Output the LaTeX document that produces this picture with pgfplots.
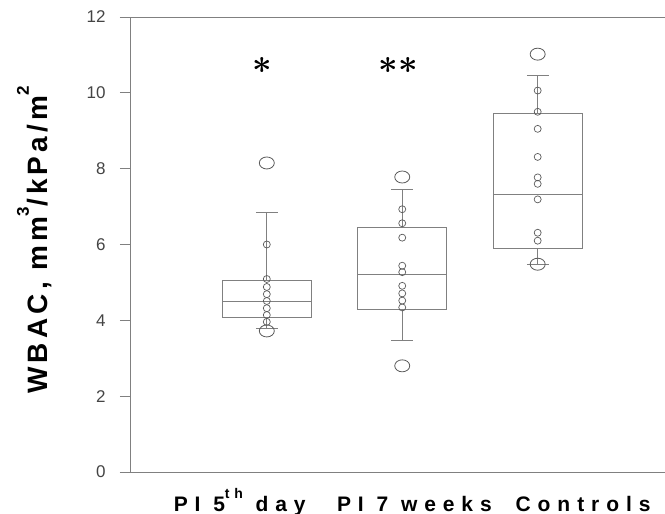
\documentclass[border=0pt]{standalone}
\usepackage{fontspec}
\setmainfont{Liberation Sans}
\newfontfamily\ylabfont[LetterSpace=15]{Liberation Sans}
\newfontfamily\xlabfont[LetterSpace=33]{Liberation Sans}
\usepackage{pgfplots}
\pgfplotsset{compat=1.18}
\usepgfplotslibrary{statistics}
\definecolor{lineGray}{HTML}{808080}
\definecolor{ptGray}{HTML}{5A5A5A}
\definecolor{tickText}{HTML}{444444}
\newcommand{\ysup}[1]{\raisebox{19pt}{\fontsize{17}{17}\selectfont #1}}
\newcommand{\xsup}[1]{\raisebox{13pt}{\fontsize{14}{14}\selectfont #1}}
\newcommand{\bast}{\mbox{\boldmath$\ast$}}

\begin{document}
\begin{tikzpicture}
\useasboundingbox (-130pt,-42pt) rectangle (535pt,472pt);
\begin{axis}[
  scale only axis, width=535pt, height=455pt,
  at={(0,0)}, anchor=south west,
  xmin=-0.01, xmax=3.94, ymin=0, ymax=12,
  clip=false,
  axis line style={draw=none},
  ytick={0,2,...,12},
  tick align=outside, major tick length=10pt,
  ytick style={lineGray, line width=0.8pt},
  xtick={0.80,2.09,3.335},
  xtick style={draw=none},
  xticklabels={PI 5\xsup{th} day, PI 7 weeks, Controls},
  xticklabel style={anchor=base, yshift=-30pt, font=\xlabfont\fontsize{21}{23}\selectfont\bfseries},
  yticklabel style={font=\fontsize{17}{19}\selectfont, text=tickText, xshift=-11pt},
  /pgf/number format/assume math mode=true,
  ylabel={WBAC, mm\ysup{3}/kPa/m\ysup{2}},
  ylabel style={at={([xshift=-82pt]rel axis cs:0,0.51)}, anchor=base, rotate=0,
    font=\ylabfont\fontsize{28}{30}\selectfont\bfseries},
]
% frame: left, top and bottom lines
\draw[lineGray, line width=0.9pt] (rel axis cs:0,0) -- (rel axis cs:0,1);
\draw[lineGray, line width=0.9pt] ([xshift=-10pt]rel axis cs:0,1) -- (rel axis cs:1,1);
\draw[lineGray, line width=0.9pt] ([xshift=-10pt]rel axis cs:0,0) -- (rel axis cs:1,0);

% boxes
\pgfplotsset{boxplot/draw direction=y}
\addplot[draw=lineGray, line width=0.9pt, boxplot prepared={
  lower whisker=3.79, lower quartile=4.08, median=4.49,
  upper quartile=5.06, upper whisker=6.84,
  draw position=1, box extend=0.66, whisker extend=0.16}] coordinates {};
\addplot[draw=lineGray, line width=0.9pt, boxplot prepared={
  lower whisker=3.46, lower quartile=4.30, median=5.20,
  upper quartile=6.46, upper whisker=7.46,
  draw position=2, box extend=0.66, whisker extend=0.16}] coordinates {};
\addplot[draw=lineGray, line width=0.9pt, boxplot prepared={
  lower whisker=5.48, lower quartile=5.90, median=7.33,
  upper quartile=9.46, upper whisker=10.45,
  draw position=3, box extend=0.66, whisker extend=0.16}] coordinates {};

% individual values
\addplot[only marks, mark=o, mark size=3.5pt, mark options={draw=ptGray, line width=0.7pt}]
  coordinates {(1,6.00)(1,5.09)(1,4.88)(1,4.69)(1,4.51)(1,4.32)(1,4.14)(1,3.96)
               (2,6.93)(2,6.56)(2,6.18)(2,5.44)(2,5.27)(2,4.91)(2,4.71)(2,4.52)(2,4.34)
               (3,10.06)(3,9.50)(3,9.05)(3,8.31)(3,7.77)(3,7.60)(3,7.19)(3,6.31)(3,6.10)};
% outliers
\addplot[only marks, mark=o, mark size=6pt, mark options={draw=ptGray, line width=0.8pt, xscale=1.25}]
  coordinates {(1,8.15)(1,3.72)(2,7.78)(2,2.80)(3,11.02)(3,5.48)};

% significance marks
\node[scale=3.4, inner sep=0pt] at (axis cs:0.97,10.73) {\bast};
\node[scale=3.4, inner sep=0pt] at (axis cs:1.97,10.73) {\bast\kern0.3pt\bast};
\end{axis}
\end{tikzpicture}
\end{document}
